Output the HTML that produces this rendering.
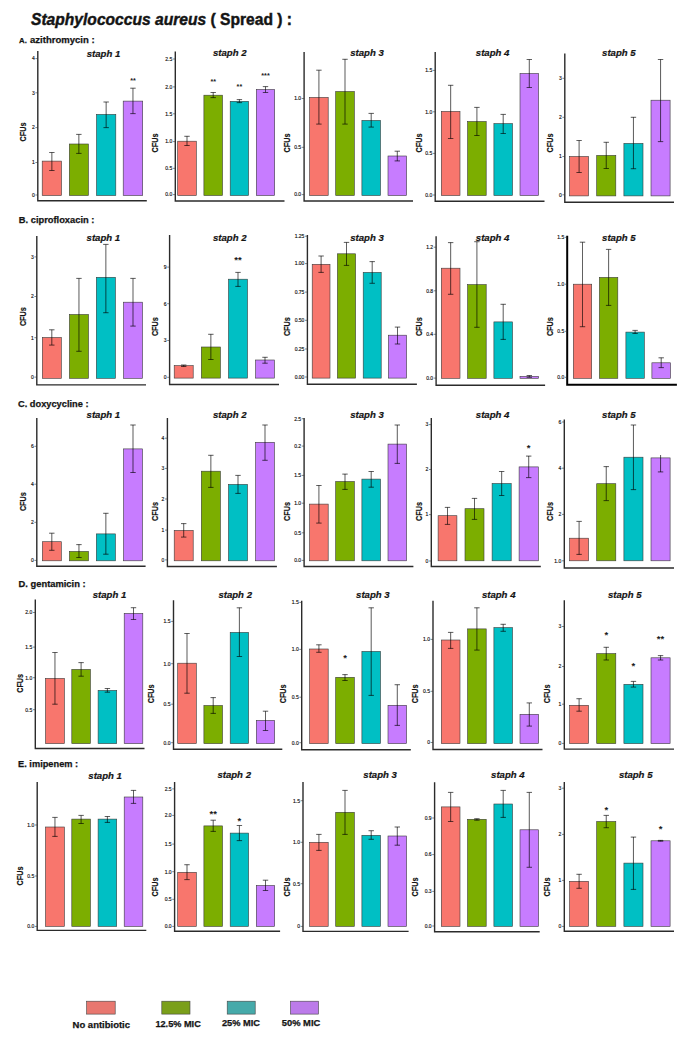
<!DOCTYPE html>
<html><head><meta charset="utf-8"><title>Staphylococcus aureus (Spread)</title>
<style>
html,body{margin:0;padding:0;background:#fff;}
body{width:685px;height:1040px;overflow:hidden;}
svg{display:block;}
text{font-family:"Liberation Sans", sans-serif;fill:#141414;}
line{stroke:#000;stroke-opacity:0.62;stroke-width:1.05;}
.ax{fill:none;stroke:#2b2b2b;stroke-width:1.4;}
line.tk{stroke:#333;stroke-opacity:1;stroke-width:0.6;}
.tl{font-size:5px;text-anchor:end;fill:#111;stroke:#111;stroke-width:0.15px;}
.tt{font-size:9.6px;stroke:#141414;stroke-width:0.2px;font-weight:bold;font-style:italic;text-anchor:middle;}
.cf{font-size:8.4px;font-weight:bold;text-anchor:middle;stroke:#141414;stroke-width:0.2px;}
.st{font-size:9.5px;font-weight:bold;text-anchor:middle;fill:#1a1a1a;}
.sec{font-size:9.2px;font-weight:bold;stroke:#141414;stroke-width:0.25px;}
.lg{font-size:9px;font-weight:bold;text-anchor:middle;stroke:#141414;stroke-width:0.25px;}
</style></head>
<body><svg width="685" height="1040" viewBox="0 0 685 1040">
<rect x="0" y="0" width="685" height="1040" fill="#fff"/>
<text x="31" y="25" font-size="16.5" font-weight="bold" stroke="#141414" stroke-width="0.45" textLength="261" lengthAdjust="spacingAndGlyphs"><tspan font-style="italic">Staphylococcus aureus</tspan> ( Spread ) :</text>
<text class="sec" x="19.1" y="43.1" style="font-size:7.8px">A.</text>
<text class="sec" x="30" y="43.1" textLength="64.6" lengthAdjust="spacingAndGlyphs">azithromycin :</text>
<text class="sec" x="18.8" y="223" textLength="75.6" lengthAdjust="spacingAndGlyphs">B. ciprofloxacin :</text>
<text class="sec" x="18" y="407.4" textLength="70.5" lengthAdjust="spacingAndGlyphs">C. doxycycline :</text>
<text class="sec" x="18.6" y="587" textLength="67" lengthAdjust="spacingAndGlyphs">D. gentamicin :</text>
<text class="sec" x="18" y="767" textLength="60.2" lengthAdjust="spacingAndGlyphs">E. imipenem :</text>
<rect x="42.2" y="161.1" width="19.3" height="34.4" fill="#F8766D" stroke="#3a3a3a" stroke-width="0.6"/>
<rect x="69.3" y="144" width="19.1" height="51.5" fill="#7CAE00" stroke="#3a3a3a" stroke-width="0.6"/>
<rect x="96.5" y="114.4" width="19.3" height="81.1" fill="#00BFC4" stroke="#3a3a3a" stroke-width="0.6"/>
<rect x="123.2" y="101.1" width="19.5" height="94.4" fill="#C77CFF" stroke="#3a3a3a" stroke-width="0.6"/>
<line x1="51.85" y1="152.5" x2="51.85" y2="170.5"/>
<line x1="49.15" y1="152.5" x2="54.55" y2="152.5"/>
<line x1="49.15" y1="170.5" x2="54.55" y2="170.5"/>
<line x1="78.85" y1="134.4" x2="78.85" y2="153.4"/>
<line x1="76.15" y1="134.4" x2="81.55" y2="134.4"/>
<line x1="76.15" y1="153.4" x2="81.55" y2="153.4"/>
<line x1="106.15" y1="102" x2="106.15" y2="127.6"/>
<line x1="103.45" y1="102" x2="108.85" y2="102"/>
<line x1="103.45" y1="127.6" x2="108.85" y2="127.6"/>
<line x1="132.95" y1="88.2" x2="132.95" y2="113.6"/>
<line x1="130.25" y1="88.2" x2="135.65" y2="88.2"/>
<line x1="130.25" y1="113.6" x2="135.65" y2="113.6"/>
<path class="ax" d="M37.8 51V200.8H146.8"/>
<line class="tk" x1="35.4" y1="195" x2="37.8" y2="195"/>
<text class="tl" x="34.8" y="196.8">0</text>
<line class="tk" x1="35.4" y1="162.5" x2="37.8" y2="162.5"/>
<text class="tl" x="34.8" y="164.3">1</text>
<line class="tk" x1="35.4" y1="127.6" x2="37.8" y2="127.6"/>
<text class="tl" x="34.8" y="129.4">2</text>
<line class="tk" x1="35.4" y1="92.8" x2="37.8" y2="92.8"/>
<text class="tl" x="34.8" y="94.6">3</text>
<line class="tk" x1="35.4" y1="58.6" x2="37.8" y2="58.6"/>
<text class="tl" x="34.8" y="60.4">4</text>
<text class="tt" x="103.5" y="56.5">staph 1</text>
<text class="cf" transform="translate(26.1 132) rotate(-90)" textLength="18.8" lengthAdjust="spacingAndGlyphs">CFUs</text>
<text class="st" style="font-size:7.2px" x="132.95" y="83.4">**</text>
<rect x="177.7" y="141.2" width="18.6" height="54.3" fill="#F8766D" stroke="#3a3a3a" stroke-width="0.6"/>
<rect x="203.9" y="95.2" width="18.6" height="100.3" fill="#7CAE00" stroke="#3a3a3a" stroke-width="0.6"/>
<rect x="230.2" y="101.3" width="18.4" height="94.2" fill="#00BFC4" stroke="#3a3a3a" stroke-width="0.6"/>
<rect x="256.3" y="89.5" width="18.4" height="106" fill="#C77CFF" stroke="#3a3a3a" stroke-width="0.6"/>
<line x1="187" y1="136.3" x2="187" y2="145.5"/>
<line x1="184.3" y1="136.3" x2="189.7" y2="136.3"/>
<line x1="184.3" y1="145.5" x2="189.7" y2="145.5"/>
<line x1="213.2" y1="92.5" x2="213.2" y2="97.6"/>
<line x1="210.5" y1="92.5" x2="215.9" y2="92.5"/>
<line x1="210.5" y1="97.6" x2="215.9" y2="97.6"/>
<line x1="239.4" y1="99.6" x2="239.4" y2="102.6"/>
<line x1="236.7" y1="99.6" x2="242.1" y2="99.6"/>
<line x1="236.7" y1="102.6" x2="242.1" y2="102.6"/>
<line x1="265.5" y1="86.6" x2="265.5" y2="92.5"/>
<line x1="262.8" y1="86.6" x2="268.2" y2="86.6"/>
<line x1="262.8" y1="92.5" x2="268.2" y2="92.5"/>
<path class="ax" d="M175.3 51.5V201H284.5"/>
<line class="tk" x1="172.9" y1="194.6" x2="175.3" y2="194.6"/>
<text class="tl" x="172.3" y="196.4">0.0</text>
<line class="tk" x1="172.9" y1="168.3" x2="175.3" y2="168.3"/>
<text class="tl" x="172.3" y="170.1">0.5</text>
<line class="tk" x1="172.9" y1="141.6" x2="175.3" y2="141.6"/>
<text class="tl" x="172.3" y="143.4">1.0</text>
<line class="tk" x1="172.9" y1="113.8" x2="175.3" y2="113.8"/>
<text class="tl" x="172.3" y="115.6">1.5</text>
<line class="tk" x1="172.9" y1="86.9" x2="175.3" y2="86.9"/>
<text class="tl" x="172.3" y="88.7">2.0</text>
<line class="tk" x1="172.9" y1="59" x2="175.3" y2="59"/>
<text class="tl" x="172.3" y="60.8">2.5</text>
<text class="tt" x="229.8" y="56.2">staph 2</text>
<text class="cf" transform="translate(157.9 143) rotate(-90)" textLength="18.8" lengthAdjust="spacingAndGlyphs">CFUs</text>
<text class="st" style="font-size:7.2px" x="213.2" y="83.6">**</text>
<text class="st" style="font-size:7.2px" x="239.4" y="89.3">**</text>
<text class="st" style="font-size:7.2px" x="265.5" y="78.2">***</text>
<rect x="309.6" y="97.4" width="18.6" height="98.1" fill="#F8766D" stroke="#3a3a3a" stroke-width="0.6"/>
<rect x="335.7" y="91.5" width="18.6" height="104" fill="#7CAE00" stroke="#3a3a3a" stroke-width="0.6"/>
<rect x="361.9" y="120.4" width="18.6" height="75.1" fill="#00BFC4" stroke="#3a3a3a" stroke-width="0.6"/>
<rect x="388" y="156" width="18.6" height="39.5" fill="#C77CFF" stroke="#3a3a3a" stroke-width="0.6"/>
<line x1="318.9" y1="70.2" x2="318.9" y2="124.1"/>
<line x1="316.2" y1="70.2" x2="321.6" y2="70.2"/>
<line x1="316.2" y1="124.1" x2="321.6" y2="124.1"/>
<line x1="345" y1="59.3" x2="345" y2="124.1"/>
<line x1="342.3" y1="59.3" x2="347.7" y2="59.3"/>
<line x1="342.3" y1="124.1" x2="347.7" y2="124.1"/>
<line x1="371.2" y1="113.4" x2="371.2" y2="127.1"/>
<line x1="368.5" y1="113.4" x2="373.9" y2="113.4"/>
<line x1="368.5" y1="127.1" x2="373.9" y2="127.1"/>
<line x1="397.3" y1="151.2" x2="397.3" y2="160.9"/>
<line x1="394.6" y1="151.2" x2="400" y2="151.2"/>
<line x1="394.6" y1="160.9" x2="400" y2="160.9"/>
<path class="ax" d="M304.1 52V201H413"/>
<line class="tk" x1="301.7" y1="194.6" x2="304.1" y2="194.6"/>
<text class="tl" x="301.1" y="196.4">0.0</text>
<line class="tk" x1="301.7" y1="147.3" x2="304.1" y2="147.3"/>
<text class="tl" x="301.1" y="149.1">0.5</text>
<line class="tk" x1="301.7" y1="98.5" x2="304.1" y2="98.5"/>
<text class="tl" x="301.1" y="100.3">1.0</text>
<text class="tt" x="367" y="56.2">staph 3</text>
<text class="cf" transform="translate(290 143) rotate(-90)" textLength="18.8" lengthAdjust="spacingAndGlyphs">CFUs</text>
<rect x="441.3" y="111.4" width="18.7" height="84.1" fill="#F8766D" stroke="#3a3a3a" stroke-width="0.6"/>
<rect x="467.6" y="121.5" width="18.6" height="74" fill="#7CAE00" stroke="#3a3a3a" stroke-width="0.6"/>
<rect x="493.9" y="123.6" width="18.6" height="71.9" fill="#00BFC4" stroke="#3a3a3a" stroke-width="0.6"/>
<rect x="520" y="73.5" width="18.6" height="122" fill="#C77CFF" stroke="#3a3a3a" stroke-width="0.6"/>
<line x1="450.65" y1="85.3" x2="450.65" y2="138.5"/>
<line x1="447.95" y1="85.3" x2="453.35" y2="85.3"/>
<line x1="447.95" y1="138.5" x2="453.35" y2="138.5"/>
<line x1="476.9" y1="107.4" x2="476.9" y2="135.5"/>
<line x1="474.2" y1="107.4" x2="479.6" y2="107.4"/>
<line x1="474.2" y1="135.5" x2="479.6" y2="135.5"/>
<line x1="503.2" y1="114.4" x2="503.2" y2="133.5"/>
<line x1="500.5" y1="114.4" x2="505.9" y2="114.4"/>
<line x1="500.5" y1="133.5" x2="505.9" y2="133.5"/>
<line x1="529.3" y1="59.5" x2="529.3" y2="87.5"/>
<line x1="526.6" y1="59.5" x2="532" y2="59.5"/>
<line x1="526.6" y1="87.5" x2="532" y2="87.5"/>
<path class="ax" d="M435.2 52V201.2H544.5"/>
<line class="tk" x1="432.8" y1="195" x2="435.2" y2="195"/>
<text class="tl" x="432.2" y="196.8">0.0</text>
<line class="tk" x1="432.8" y1="153.4" x2="435.2" y2="153.4"/>
<text class="tl" x="432.2" y="155.2">0.5</text>
<line class="tk" x1="432.8" y1="111.8" x2="435.2" y2="111.8"/>
<text class="tl" x="432.2" y="113.6">1.0</text>
<line class="tk" x1="432.8" y1="70.4" x2="435.2" y2="70.4"/>
<text class="tl" x="432.2" y="72.2">1.5</text>
<text class="tt" x="492.6" y="56.2">staph 4</text>
<text class="cf" transform="translate(421.6 143) rotate(-90)" textLength="18.8" lengthAdjust="spacingAndGlyphs">CFUs</text>
<rect x="569.6" y="156.5" width="19" height="39.4" fill="#F8766D" stroke="#3a3a3a" stroke-width="0.6"/>
<rect x="596.7" y="155.4" width="19.1" height="40.5" fill="#7CAE00" stroke="#3a3a3a" stroke-width="0.6"/>
<rect x="623.9" y="143.4" width="19.1" height="52.5" fill="#00BFC4" stroke="#3a3a3a" stroke-width="0.6"/>
<rect x="651" y="100.2" width="19.1" height="95.7" fill="#C77CFF" stroke="#3a3a3a" stroke-width="0.6"/>
<line x1="579.1" y1="140.5" x2="579.1" y2="172.5"/>
<line x1="576.4" y1="140.5" x2="581.8" y2="140.5"/>
<line x1="576.4" y1="172.5" x2="581.8" y2="172.5"/>
<line x1="606.25" y1="142.3" x2="606.25" y2="168.5"/>
<line x1="603.55" y1="142.3" x2="608.95" y2="142.3"/>
<line x1="603.55" y1="168.5" x2="608.95" y2="168.5"/>
<line x1="633.45" y1="117.3" x2="633.45" y2="168.7"/>
<line x1="630.75" y1="117.3" x2="636.15" y2="117.3"/>
<line x1="630.75" y1="168.7" x2="636.15" y2="168.7"/>
<line x1="660.55" y1="59.5" x2="660.55" y2="141.6"/>
<line x1="657.85" y1="59.5" x2="663.25" y2="59.5"/>
<line x1="657.85" y1="141.6" x2="663.25" y2="141.6"/>
<path class="ax" d="M564.8 53.6V202.3H674"/>
<line class="tk" x1="562.4" y1="194.8" x2="564.8" y2="194.8"/>
<text class="tl" x="561.8" y="196.6">0</text>
<line class="tk" x1="562.4" y1="156.5" x2="564.8" y2="156.5"/>
<text class="tl" x="561.8" y="158.3">1</text>
<line class="tk" x1="562.4" y1="117.3" x2="564.8" y2="117.3"/>
<text class="tl" x="561.8" y="119.1">2</text>
<line class="tk" x1="562.4" y1="78.3" x2="564.8" y2="78.3"/>
<text class="tl" x="561.8" y="80.1">3</text>
<text class="tt" x="618.9" y="56.2">staph 5</text>
<text class="cf" transform="translate(553.3 143) rotate(-90)" textLength="18.8" lengthAdjust="spacingAndGlyphs">CFUs</text>
<rect x="42.3" y="337.5" width="19" height="40.8" fill="#F8766D" stroke="#3a3a3a" stroke-width="0.6"/>
<rect x="69.4" y="314.5" width="19.1" height="63.8" fill="#7CAE00" stroke="#3a3a3a" stroke-width="0.6"/>
<rect x="96.3" y="277.3" width="19.1" height="101" fill="#00BFC4" stroke="#3a3a3a" stroke-width="0.6"/>
<rect x="123.5" y="302.2" width="19" height="76.1" fill="#C77CFF" stroke="#3a3a3a" stroke-width="0.6"/>
<line x1="51.8" y1="329.8" x2="51.8" y2="345.1"/>
<line x1="49.1" y1="329.8" x2="54.5" y2="329.8"/>
<line x1="49.1" y1="345.1" x2="54.5" y2="345.1"/>
<line x1="78.95" y1="278.4" x2="78.95" y2="351.3"/>
<line x1="76.25" y1="278.4" x2="81.65" y2="278.4"/>
<line x1="76.25" y1="351.3" x2="81.65" y2="351.3"/>
<line x1="105.85" y1="244.4" x2="105.85" y2="312.7"/>
<line x1="103.15" y1="244.4" x2="108.55" y2="244.4"/>
<line x1="103.15" y1="312.7" x2="108.55" y2="312.7"/>
<line x1="133" y1="278.4" x2="133" y2="326.1"/>
<line x1="130.3" y1="278.4" x2="135.7" y2="278.4"/>
<line x1="130.3" y1="326.1" x2="135.7" y2="326.1"/>
<path class="ax" d="M36.8 236.1V384.9H146"/>
<line class="tk" x1="34.4" y1="377.1" x2="36.8" y2="377.1"/>
<text class="tl" x="33.8" y="378.9">0</text>
<line class="tk" x1="34.4" y1="337.7" x2="36.8" y2="337.7"/>
<text class="tl" x="33.8" y="339.5">1</text>
<line class="tk" x1="34.4" y1="296.5" x2="36.8" y2="296.5"/>
<text class="tl" x="33.8" y="298.3">2</text>
<line class="tk" x1="34.4" y1="256.9" x2="36.8" y2="256.9"/>
<text class="tl" x="33.8" y="258.7">3</text>
<text class="tt" x="103.4" y="240.9">staph 1</text>
<text class="cf" transform="translate(26 316.7) rotate(-90)" textLength="18.8" lengthAdjust="spacingAndGlyphs">CFUs</text>
<rect x="174.2" y="365.6" width="19" height="12.5" fill="#F8766D" stroke="#3a3a3a" stroke-width="0.6"/>
<rect x="201.3" y="347" width="19.1" height="31.1" fill="#7CAE00" stroke="#3a3a3a" stroke-width="0.6"/>
<rect x="228.5" y="279.2" width="19" height="98.9" fill="#00BFC4" stroke="#3a3a3a" stroke-width="0.6"/>
<rect x="255.6" y="360" width="18.8" height="18.1" fill="#C77CFF" stroke="#3a3a3a" stroke-width="0.6"/>
<line x1="183.7" y1="365" x2="183.7" y2="366.5"/>
<line x1="181" y1="365" x2="186.4" y2="365"/>
<line x1="181" y1="366.5" x2="186.4" y2="366.5"/>
<line x1="210.85" y1="334.3" x2="210.85" y2="359.5"/>
<line x1="208.15" y1="334.3" x2="213.55" y2="334.3"/>
<line x1="208.15" y1="359.5" x2="213.55" y2="359.5"/>
<line x1="238" y1="272.4" x2="238" y2="286.4"/>
<line x1="235.3" y1="272.4" x2="240.7" y2="272.4"/>
<line x1="235.3" y1="286.4" x2="240.7" y2="286.4"/>
<line x1="265" y1="357.3" x2="265" y2="363.2"/>
<line x1="262.3" y1="357.3" x2="267.7" y2="357.3"/>
<line x1="262.3" y1="363.2" x2="267.7" y2="363.2"/>
<path class="ax" d="M169.6 235.1V384.5H279"/>
<line class="tk" x1="167.2" y1="377.3" x2="169.6" y2="377.3"/>
<text class="tl" x="166.6" y="379.1">0</text>
<line class="tk" x1="167.2" y1="340.5" x2="169.6" y2="340.5"/>
<text class="tl" x="166.6" y="342.3">3</text>
<line class="tk" x1="167.2" y1="303.7" x2="169.6" y2="303.7"/>
<text class="tl" x="166.6" y="305.5">6</text>
<line class="tk" x1="167.2" y1="267.1" x2="169.6" y2="267.1"/>
<text class="tl" x="166.6" y="268.9">9</text>
<text class="tt" x="229.8" y="240.7">staph 2</text>
<text class="cf" transform="translate(157.9 326.7) rotate(-90)" textLength="18.8" lengthAdjust="spacingAndGlyphs">CFUs</text>
<text class="st" x="238" y="263">**</text>
<rect x="312.2" y="264.3" width="17.8" height="113.8" fill="#F8766D" stroke="#3a3a3a" stroke-width="0.6"/>
<rect x="337.4" y="253.8" width="18.2" height="124.3" fill="#7CAE00" stroke="#3a3a3a" stroke-width="0.6"/>
<rect x="363.2" y="272.4" width="18" height="105.7" fill="#00BFC4" stroke="#3a3a3a" stroke-width="0.6"/>
<rect x="388.4" y="335.2" width="18.2" height="42.9" fill="#C77CFF" stroke="#3a3a3a" stroke-width="0.6"/>
<line x1="321.1" y1="256" x2="321.1" y2="272.4"/>
<line x1="318.4" y1="256" x2="323.8" y2="256"/>
<line x1="318.4" y1="272.4" x2="323.8" y2="272.4"/>
<line x1="346.5" y1="242.4" x2="346.5" y2="265.4"/>
<line x1="343.8" y1="242.4" x2="349.2" y2="242.4"/>
<line x1="343.8" y1="265.4" x2="349.2" y2="265.4"/>
<line x1="372.2" y1="261.6" x2="372.2" y2="283.3"/>
<line x1="369.5" y1="261.6" x2="374.9" y2="261.6"/>
<line x1="369.5" y1="283.3" x2="374.9" y2="283.3"/>
<line x1="397.5" y1="327.1" x2="397.5" y2="344"/>
<line x1="394.8" y1="327.1" x2="400.2" y2="327.1"/>
<line x1="394.8" y1="344" x2="400.2" y2="344"/>
<path class="ax" d="M307.4 235.1V384.3H416.9"/>
<line class="tk" x1="305" y1="377" x2="307.4" y2="377"/>
<text class="tl" x="304.4" y="378.8">0.00</text>
<line class="tk" x1="305" y1="349" x2="307.4" y2="349"/>
<text class="tl" x="304.4" y="350.8">0.25</text>
<line class="tk" x1="305" y1="320.3" x2="307.4" y2="320.3"/>
<text class="tl" x="304.4" y="322.1">0.50</text>
<line class="tk" x1="305" y1="292.1" x2="307.4" y2="292.1"/>
<text class="tl" x="304.4" y="293.9">0.75</text>
<line class="tk" x1="305" y1="263.6" x2="307.4" y2="263.6"/>
<text class="tl" x="304.4" y="265.4">1.00</text>
<line class="tk" x1="305" y1="236.2" x2="307.4" y2="236.2"/>
<text class="tl" x="304.4" y="238">1.25</text>
<text class="tt" x="367" y="240.7">staph 3</text>
<text class="cf" transform="translate(290 326.7) rotate(-90)" textLength="18.8" lengthAdjust="spacingAndGlyphs">CFUs</text>
<rect x="441.3" y="268.2" width="18.7" height="110.1" fill="#F8766D" stroke="#3a3a3a" stroke-width="0.6"/>
<rect x="467.6" y="284.6" width="18.6" height="93.7" fill="#7CAE00" stroke="#3a3a3a" stroke-width="0.6"/>
<rect x="493.9" y="321.9" width="18.6" height="56.4" fill="#00BFC4" stroke="#3a3a3a" stroke-width="0.6"/>
<rect x="520" y="376.4" width="18.6" height="1.9" fill="#C77CFF" stroke="#3a3a3a" stroke-width="0.6"/>
<line x1="450.65" y1="242.6" x2="450.65" y2="294.3"/>
<line x1="447.95" y1="242.6" x2="453.35" y2="242.6"/>
<line x1="447.95" y1="294.3" x2="453.35" y2="294.3"/>
<line x1="476.9" y1="241.7" x2="476.9" y2="327.3"/>
<line x1="474.2" y1="241.7" x2="479.6" y2="241.7"/>
<line x1="474.2" y1="327.3" x2="479.6" y2="327.3"/>
<line x1="503.2" y1="304.3" x2="503.2" y2="339.4"/>
<line x1="500.5" y1="304.3" x2="505.9" y2="304.3"/>
<line x1="500.5" y1="339.4" x2="505.9" y2="339.4"/>
<line x1="529.3" y1="375.5" x2="529.3" y2="377.3"/>
<line x1="526.6" y1="375.5" x2="532" y2="375.5"/>
<line x1="526.6" y1="377.3" x2="532" y2="377.3"/>
<path class="ax" d="M436.1 236.2V385.3H545.1"/>
<line class="tk" x1="433.7" y1="378.1" x2="436.1" y2="378.1"/>
<text class="tl" x="433.1" y="379.9">0.0</text>
<line class="tk" x1="433.7" y1="334.3" x2="436.1" y2="334.3"/>
<text class="tl" x="433.1" y="336.1">0.4</text>
<line class="tk" x1="433.7" y1="290.8" x2="436.1" y2="290.8"/>
<text class="tl" x="433.1" y="292.6">0.8</text>
<line class="tk" x1="433.7" y1="247.2" x2="436.1" y2="247.2"/>
<text class="tl" x="433.1" y="249">1.2</text>
<text class="tt" x="492.6" y="240.7">staph 4</text>
<text class="cf" transform="translate(421.6 326.7) rotate(-90)" textLength="18.8" lengthAdjust="spacingAndGlyphs">CFUs</text>
<rect x="573.3" y="284.2" width="18.4" height="94.1" fill="#F8766D" stroke="#3a3a3a" stroke-width="0.6"/>
<rect x="599.4" y="277.4" width="18.4" height="100.9" fill="#7CAE00" stroke="#3a3a3a" stroke-width="0.6"/>
<rect x="625.9" y="332.1" width="18.4" height="46.2" fill="#00BFC4" stroke="#3a3a3a" stroke-width="0.6"/>
<rect x="651.9" y="362.8" width="18.6" height="15.5" fill="#C77CFF" stroke="#3a3a3a" stroke-width="0.6"/>
<line x1="582.5" y1="242.2" x2="582.5" y2="326.7"/>
<line x1="579.8" y1="242.2" x2="585.2" y2="242.2"/>
<line x1="579.8" y1="326.7" x2="585.2" y2="326.7"/>
<line x1="608.6" y1="249.4" x2="608.6" y2="305.4"/>
<line x1="605.9" y1="249.4" x2="611.3" y2="249.4"/>
<line x1="605.9" y1="305.4" x2="611.3" y2="305.4"/>
<line x1="635.1" y1="330.4" x2="635.1" y2="333.5"/>
<line x1="632.4" y1="330.4" x2="637.8" y2="330.4"/>
<line x1="632.4" y1="333.5" x2="637.8" y2="333.5"/>
<line x1="661.2" y1="357.8" x2="661.2" y2="367.6"/>
<line x1="658.5" y1="357.8" x2="663.9" y2="357.8"/>
<line x1="658.5" y1="367.6" x2="663.9" y2="367.6"/>
<path class="ax" style="stroke-width:2px;stroke:#000" d="M567.2 235.8V384.7H676.9"/>
<line class="tk" x1="564.8" y1="377.3" x2="567.2" y2="377.3"/>
<text class="tl" x="564.2" y="379.1">0.0</text>
<line class="tk" x1="564.8" y1="331.3" x2="567.2" y2="331.3"/>
<text class="tl" x="564.2" y="333.1">0.5</text>
<line class="tk" x1="564.8" y1="284.2" x2="567.2" y2="284.2"/>
<text class="tl" x="564.2" y="286">1.0</text>
<line class="tk" x1="564.8" y1="237.3" x2="567.2" y2="237.3"/>
<text class="tl" x="564.2" y="239.1">1.5</text>
<text class="tt" x="618.9" y="240.7">staph 5</text>
<text class="cf" transform="translate(553.3 326.7) rotate(-90)" textLength="18.8" lengthAdjust="spacingAndGlyphs">CFUs</text>
<rect x="42.3" y="541.7" width="19" height="19.1" fill="#F8766D" stroke="#3a3a3a" stroke-width="0.6"/>
<rect x="69.4" y="551.4" width="19.1" height="9.4" fill="#7CAE00" stroke="#3a3a3a" stroke-width="0.6"/>
<rect x="96.3" y="533.9" width="19.1" height="26.9" fill="#00BFC4" stroke="#3a3a3a" stroke-width="0.6"/>
<rect x="123.5" y="448.9" width="19" height="111.9" fill="#C77CFF" stroke="#3a3a3a" stroke-width="0.6"/>
<line x1="51.8" y1="533.2" x2="51.8" y2="550.3"/>
<line x1="49.1" y1="533.2" x2="54.5" y2="533.2"/>
<line x1="49.1" y1="550.3" x2="54.5" y2="550.3"/>
<line x1="78.95" y1="544.6" x2="78.95" y2="557.5"/>
<line x1="76.25" y1="544.6" x2="81.65" y2="544.6"/>
<line x1="76.25" y1="557.5" x2="81.65" y2="557.5"/>
<line x1="105.85" y1="513.3" x2="105.85" y2="554.2"/>
<line x1="103.15" y1="513.3" x2="108.55" y2="513.3"/>
<line x1="103.15" y1="554.2" x2="108.55" y2="554.2"/>
<line x1="133" y1="425" x2="133" y2="472.5"/>
<line x1="130.3" y1="425" x2="135.7" y2="425"/>
<line x1="130.3" y1="472.5" x2="135.7" y2="472.5"/>
<path class="ax" d="M36.8 418V566.3H145.6"/>
<line class="tk" x1="34.4" y1="560.4" x2="36.8" y2="560.4"/>
<text class="tl" x="33.8" y="562.2">0</text>
<line class="tk" x1="34.4" y1="522.3" x2="36.8" y2="522.3"/>
<text class="tl" x="33.8" y="524.1">2</text>
<line class="tk" x1="34.4" y1="484.2" x2="36.8" y2="484.2"/>
<text class="tl" x="33.8" y="486">4</text>
<line class="tk" x1="34.4" y1="446.3" x2="36.8" y2="446.3"/>
<text class="tl" x="33.8" y="448.1">6</text>
<text class="tt" x="103.4" y="417.8">staph 1</text>
<text class="cf" transform="translate(26 501.7) rotate(-90)" textLength="18.8" lengthAdjust="spacingAndGlyphs">CFUs</text>
<rect x="174.2" y="530.4" width="19" height="30.4" fill="#F8766D" stroke="#3a3a3a" stroke-width="0.6"/>
<rect x="201.3" y="471.2" width="19.1" height="89.6" fill="#7CAE00" stroke="#3a3a3a" stroke-width="0.6"/>
<rect x="228.5" y="484.4" width="19" height="76.4" fill="#00BFC4" stroke="#3a3a3a" stroke-width="0.6"/>
<rect x="255.6" y="442.3" width="18.8" height="118.5" fill="#C77CFF" stroke="#3a3a3a" stroke-width="0.6"/>
<line x1="183.7" y1="523.6" x2="183.7" y2="537.1"/>
<line x1="181" y1="523.6" x2="186.4" y2="523.6"/>
<line x1="181" y1="537.1" x2="186.4" y2="537.1"/>
<line x1="210.85" y1="455.3" x2="210.85" y2="487.4"/>
<line x1="208.15" y1="455.3" x2="213.55" y2="455.3"/>
<line x1="208.15" y1="487.4" x2="213.55" y2="487.4"/>
<line x1="238" y1="475.4" x2="238" y2="493.4"/>
<line x1="235.3" y1="475.4" x2="240.7" y2="475.4"/>
<line x1="235.3" y1="493.4" x2="240.7" y2="493.4"/>
<line x1="265" y1="425" x2="265" y2="460.3"/>
<line x1="262.3" y1="425" x2="267.7" y2="425"/>
<line x1="262.3" y1="460.3" x2="267.7" y2="460.3"/>
<path class="ax" d="M167.4 418V566.5H276.9"/>
<line class="tk" x1="165" y1="559.9" x2="167.4" y2="559.9"/>
<text class="tl" x="164.4" y="561.7">0</text>
<line class="tk" x1="165" y1="530.1" x2="167.4" y2="530.1"/>
<text class="tl" x="164.4" y="531.9">1</text>
<line class="tk" x1="165" y1="499" x2="167.4" y2="499"/>
<text class="tl" x="164.4" y="500.8">2</text>
<line class="tk" x1="165" y1="468.4" x2="167.4" y2="468.4"/>
<text class="tl" x="164.4" y="470.2">3</text>
<line class="tk" x1="165" y1="438.2" x2="167.4" y2="438.2"/>
<text class="tl" x="164.4" y="440">4</text>
<text class="tt" x="229.8" y="417.8">staph 2</text>
<text class="cf" transform="translate(157.9 511.5) rotate(-90)" textLength="18.8" lengthAdjust="spacingAndGlyphs">CFUs</text>
<rect x="309.6" y="504.1" width="18.6" height="56.7" fill="#F8766D" stroke="#3a3a3a" stroke-width="0.6"/>
<rect x="335.7" y="481.5" width="18.6" height="79.3" fill="#7CAE00" stroke="#3a3a3a" stroke-width="0.6"/>
<rect x="361.9" y="479.1" width="18.6" height="81.7" fill="#00BFC4" stroke="#3a3a3a" stroke-width="0.6"/>
<rect x="388" y="444.1" width="18.6" height="116.7" fill="#C77CFF" stroke="#3a3a3a" stroke-width="0.6"/>
<line x1="318.9" y1="485.5" x2="318.9" y2="523.1"/>
<line x1="316.2" y1="485.5" x2="321.6" y2="485.5"/>
<line x1="316.2" y1="523.1" x2="321.6" y2="523.1"/>
<line x1="345" y1="474.1" x2="345" y2="489.4"/>
<line x1="342.3" y1="474.1" x2="347.7" y2="474.1"/>
<line x1="342.3" y1="489.4" x2="347.7" y2="489.4"/>
<line x1="371.2" y1="471.5" x2="371.2" y2="487.2"/>
<line x1="368.5" y1="471.5" x2="373.9" y2="471.5"/>
<line x1="368.5" y1="487.2" x2="373.9" y2="487.2"/>
<line x1="397.3" y1="425" x2="397.3" y2="463.4"/>
<line x1="394.6" y1="425" x2="400" y2="425"/>
<line x1="394.6" y1="463.4" x2="400" y2="463.4"/>
<path class="ax" d="M304.1 418V566.5H413.4"/>
<line class="tk" x1="301.7" y1="560.4" x2="304.1" y2="560.4"/>
<text class="tl" x="301.1" y="562.2">0.0</text>
<line class="tk" x1="301.7" y1="532.8" x2="304.1" y2="532.8"/>
<text class="tl" x="301.1" y="534.6">0.5</text>
<line class="tk" x1="301.7" y1="503.2" x2="304.1" y2="503.2"/>
<text class="tl" x="301.1" y="505">1.0</text>
<line class="tk" x1="301.7" y1="475.4" x2="304.1" y2="475.4"/>
<text class="tl" x="301.1" y="477.2">1.5</text>
<line class="tk" x1="301.7" y1="446.1" x2="304.1" y2="446.1"/>
<text class="tl" x="301.1" y="447.9">0.2</text>
<line class="tk" x1="301.7" y1="418.7" x2="304.1" y2="418.7"/>
<text class="tl" x="301.1" y="420.5">2.5</text>
<text class="tt" x="367" y="417.8">staph 3</text>
<text class="cf" transform="translate(290 511.5) rotate(-90)" textLength="18.8" lengthAdjust="spacingAndGlyphs">CFUs</text>
<rect x="438.1" y="515.7" width="18.8" height="45.1" fill="#F8766D" stroke="#3a3a3a" stroke-width="0.6"/>
<rect x="465" y="508.7" width="19" height="52.1" fill="#7CAE00" stroke="#3a3a3a" stroke-width="0.6"/>
<rect x="492.1" y="483.5" width="19.1" height="77.3" fill="#00BFC4" stroke="#3a3a3a" stroke-width="0.6"/>
<rect x="519.1" y="466.9" width="19.2" height="93.9" fill="#C77CFF" stroke="#3a3a3a" stroke-width="0.6"/>
<line x1="447.5" y1="507.4" x2="447.5" y2="524.4"/>
<line x1="444.8" y1="507.4" x2="450.2" y2="507.4"/>
<line x1="444.8" y1="524.4" x2="450.2" y2="524.4"/>
<line x1="474.5" y1="498.4" x2="474.5" y2="519.4"/>
<line x1="471.8" y1="498.4" x2="477.2" y2="498.4"/>
<line x1="471.8" y1="519.4" x2="477.2" y2="519.4"/>
<line x1="501.65" y1="471.5" x2="501.65" y2="495.5"/>
<line x1="498.95" y1="471.5" x2="504.35" y2="471.5"/>
<line x1="498.95" y1="495.5" x2="504.35" y2="495.5"/>
<line x1="528.7" y1="456.1" x2="528.7" y2="477.6"/>
<line x1="526" y1="456.1" x2="531.4" y2="456.1"/>
<line x1="526" y1="477.6" x2="531.4" y2="477.6"/>
<path class="ax" d="M431.3 418V566.5H540.8"/>
<line class="tk" x1="428.9" y1="561" x2="431.3" y2="561"/>
<text class="tl" x="428.3" y="562.8">0</text>
<line class="tk" x1="428.9" y1="514.6" x2="431.3" y2="514.6"/>
<text class="tl" x="428.3" y="516.4">1</text>
<line class="tk" x1="428.9" y1="469.5" x2="431.3" y2="469.5"/>
<text class="tl" x="428.3" y="471.3">2</text>
<line class="tk" x1="428.9" y1="424.6" x2="431.3" y2="424.6"/>
<text class="tl" x="428.3" y="426.4">3</text>
<text class="tt" x="492.6" y="417.8">staph 4</text>
<text class="cf" transform="translate(421.6 511.5) rotate(-90)" textLength="18.8" lengthAdjust="spacingAndGlyphs">CFUs</text>
<text class="st" x="528.7" y="450.9">*</text>
<rect x="569.6" y="538.2" width="19" height="22.6" fill="#F8766D" stroke="#3a3a3a" stroke-width="0.6"/>
<rect x="596.7" y="483.7" width="19.1" height="77.1" fill="#7CAE00" stroke="#3a3a3a" stroke-width="0.6"/>
<rect x="623.9" y="457.2" width="19.1" height="103.6" fill="#00BFC4" stroke="#3a3a3a" stroke-width="0.6"/>
<rect x="651" y="457.9" width="19.1" height="102.9" fill="#C77CFF" stroke="#3a3a3a" stroke-width="0.6"/>
<line x1="579.1" y1="521.4" x2="579.1" y2="554.4"/>
<line x1="576.4" y1="521.4" x2="581.8" y2="521.4"/>
<line x1="576.4" y1="554.4" x2="581.8" y2="554.4"/>
<line x1="606.25" y1="466.6" x2="606.25" y2="500.6"/>
<line x1="603.55" y1="466.6" x2="608.95" y2="466.6"/>
<line x1="603.55" y1="500.6" x2="608.95" y2="500.6"/>
<line x1="633.45" y1="425" x2="633.45" y2="489.6"/>
<line x1="630.75" y1="425" x2="636.15" y2="425"/>
<line x1="630.75" y1="489.6" x2="636.15" y2="489.6"/>
<line x1="660.55" y1="455" x2="660.55" y2="471.9"/>
<line x1="657.85" y1="471.9" x2="663.25" y2="471.9"/>
<path class="ax" d="M564.3 419.6V568H674"/>
<line class="tk" x1="561.9" y1="560.8" x2="564.3" y2="560.8"/>
<text class="tl" x="561.3" y="562.6">1.0</text>
<line class="tk" x1="561.9" y1="514.4" x2="564.3" y2="514.4"/>
<text class="tl" x="561.3" y="516.2">2</text>
<line class="tk" x1="561.9" y1="468.2" x2="564.3" y2="468.2"/>
<text class="tl" x="561.3" y="470">4</text>
<line class="tk" x1="561.9" y1="422" x2="564.3" y2="422"/>
<text class="tl" x="561.3" y="423.8">6</text>
<text class="tt" x="618.9" y="417.8">staph 5</text>
<text class="cf" transform="translate(553.3 511.5) rotate(-90)" textLength="18.8" lengthAdjust="spacingAndGlyphs">CFUs</text>
<rect x="45.5" y="678.4" width="18.9" height="65.2" fill="#F8766D" stroke="#3a3a3a" stroke-width="0.6"/>
<rect x="71.8" y="669.4" width="18.6" height="74.2" fill="#7CAE00" stroke="#3a3a3a" stroke-width="0.6"/>
<rect x="98.1" y="690.4" width="18.6" height="53.2" fill="#00BFC4" stroke="#3a3a3a" stroke-width="0.6"/>
<rect x="124.2" y="613.4" width="18.6" height="130.2" fill="#C77CFF" stroke="#3a3a3a" stroke-width="0.6"/>
<line x1="54.95" y1="652.5" x2="54.95" y2="704.2"/>
<line x1="52.25" y1="652.5" x2="57.65" y2="652.5"/>
<line x1="52.25" y1="704.2" x2="57.65" y2="704.2"/>
<line x1="81.1" y1="662.6" x2="81.1" y2="676.2"/>
<line x1="78.4" y1="662.6" x2="83.8" y2="662.6"/>
<line x1="78.4" y1="676.2" x2="83.8" y2="676.2"/>
<line x1="107.4" y1="688.5" x2="107.4" y2="692.2"/>
<line x1="104.7" y1="688.5" x2="110.1" y2="688.5"/>
<line x1="104.7" y1="692.2" x2="110.1" y2="692.2"/>
<line x1="133.5" y1="607.7" x2="133.5" y2="619.5"/>
<line x1="130.8" y1="607.7" x2="136.2" y2="607.7"/>
<line x1="130.8" y1="619.5" x2="136.2" y2="619.5"/>
<path class="ax" d="M35.3 599.6V748.5H144.5"/>
<line class="tk" x1="32.9" y1="709.7" x2="35.3" y2="709.7"/>
<text class="tl" x="32.3" y="711.5">0.5</text>
<line class="tk" x1="32.9" y1="677.7" x2="35.3" y2="677.7"/>
<text class="tl" x="32.3" y="679.5">1.0</text>
<line class="tk" x1="32.9" y1="647.1" x2="35.3" y2="647.1"/>
<text class="tl" x="32.3" y="648.9">1.5</text>
<line class="tk" x1="32.9" y1="612.5" x2="35.3" y2="612.5"/>
<text class="tl" x="32.3" y="614.3">2.0</text>
<text class="tt" x="109.5" y="597.8">staph 1</text>
<text class="cf" transform="translate(22.7 683.4) rotate(-90)" textLength="18.8" lengthAdjust="spacingAndGlyphs">CFUs</text>
<rect x="177.7" y="663.2" width="18.6" height="80.4" fill="#F8766D" stroke="#3a3a3a" stroke-width="0.6"/>
<rect x="203.9" y="705.5" width="18.6" height="38.1" fill="#7CAE00" stroke="#3a3a3a" stroke-width="0.6"/>
<rect x="230.2" y="632.4" width="18.4" height="111.2" fill="#00BFC4" stroke="#3a3a3a" stroke-width="0.6"/>
<rect x="256.3" y="720.4" width="18.4" height="23.2" fill="#C77CFF" stroke="#3a3a3a" stroke-width="0.6"/>
<line x1="187" y1="633.5" x2="187" y2="693.2"/>
<line x1="184.3" y1="633.5" x2="189.7" y2="633.5"/>
<line x1="184.3" y1="693.2" x2="189.7" y2="693.2"/>
<line x1="213.2" y1="697.6" x2="213.2" y2="713.4"/>
<line x1="210.5" y1="697.6" x2="215.9" y2="697.6"/>
<line x1="210.5" y1="713.4" x2="215.9" y2="713.4"/>
<line x1="239.4" y1="607.8" x2="239.4" y2="656.5"/>
<line x1="236.7" y1="607.8" x2="242.1" y2="607.8"/>
<line x1="236.7" y1="656.5" x2="242.1" y2="656.5"/>
<line x1="265.5" y1="711.2" x2="265.5" y2="730.5"/>
<line x1="262.8" y1="711.2" x2="268.2" y2="711.2"/>
<line x1="262.8" y1="730.5" x2="268.2" y2="730.5"/>
<path class="ax" d="M173.5 600.2V749.3H282.3"/>
<line class="tk" x1="171.1" y1="742.7" x2="173.5" y2="742.7"/>
<text class="tl" x="170.5" y="744.5">0.0</text>
<line class="tk" x1="171.1" y1="704.2" x2="173.5" y2="704.2"/>
<text class="tl" x="170.5" y="706">0.5</text>
<line class="tk" x1="171.1" y1="663.7" x2="173.5" y2="663.7"/>
<text class="tl" x="170.5" y="665.5">1.0</text>
<line class="tk" x1="171.1" y1="621.4" x2="173.5" y2="621.4"/>
<text class="tl" x="170.5" y="623.2">1.5</text>
<text class="tt" x="235.2" y="597.8">staph 2</text>
<text class="cf" transform="translate(154.4 693.9) rotate(-90)" textLength="18.8" lengthAdjust="spacingAndGlyphs">CFUs</text>
<rect x="309.6" y="649" width="18.6" height="94.6" fill="#F8766D" stroke="#3a3a3a" stroke-width="0.6"/>
<rect x="335.7" y="677.3" width="18.6" height="66.3" fill="#7CAE00" stroke="#3a3a3a" stroke-width="0.6"/>
<rect x="361.9" y="651.4" width="18.6" height="92.2" fill="#00BFC4" stroke="#3a3a3a" stroke-width="0.6"/>
<rect x="388" y="705.3" width="18.6" height="38.3" fill="#C77CFF" stroke="#3a3a3a" stroke-width="0.6"/>
<line x1="318.9" y1="644.8" x2="318.9" y2="652.3"/>
<line x1="316.2" y1="644.8" x2="321.6" y2="644.8"/>
<line x1="316.2" y1="652.3" x2="321.6" y2="652.3"/>
<line x1="345" y1="674.6" x2="345" y2="680.5"/>
<line x1="342.3" y1="674.6" x2="347.7" y2="674.6"/>
<line x1="342.3" y1="680.5" x2="347.7" y2="680.5"/>
<line x1="371.2" y1="607.8" x2="371.2" y2="695.4"/>
<line x1="368.5" y1="607.8" x2="373.9" y2="607.8"/>
<line x1="368.5" y1="695.4" x2="373.9" y2="695.4"/>
<line x1="397.3" y1="684.7" x2="397.3" y2="725.4"/>
<line x1="394.6" y1="684.7" x2="400" y2="684.7"/>
<line x1="394.6" y1="725.4" x2="400" y2="725.4"/>
<path class="ax" d="M301.7 600.8V749.7H410.8"/>
<line class="tk" x1="299.3" y1="742.7" x2="301.7" y2="742.7"/>
<text class="tl" x="298.7" y="744.5">0.0</text>
<line class="tk" x1="299.3" y1="697.2" x2="301.7" y2="697.2"/>
<text class="tl" x="298.7" y="699">0.5</text>
<line class="tk" x1="299.3" y1="649.4" x2="301.7" y2="649.4"/>
<text class="tl" x="298.7" y="651.2">1.0</text>
<line class="tk" x1="299.3" y1="602.4" x2="301.7" y2="602.4"/>
<text class="tl" x="298.7" y="604.2">1.5</text>
<text class="tt" x="372.9" y="597.8">staph 3</text>
<text class="cf" transform="translate(286.3 693.9) rotate(-90)" textLength="18.8" lengthAdjust="spacingAndGlyphs">CFUs</text>
<text class="st" x="345" y="661.3">*</text>
<rect x="441.3" y="640" width="18.7" height="103.6" fill="#F8766D" stroke="#3a3a3a" stroke-width="0.6"/>
<rect x="467.6" y="628.9" width="18.6" height="114.7" fill="#7CAE00" stroke="#3a3a3a" stroke-width="0.6"/>
<rect x="493.9" y="627.6" width="18.6" height="116" fill="#00BFC4" stroke="#3a3a3a" stroke-width="0.6"/>
<rect x="520" y="714.3" width="18.6" height="29.3" fill="#C77CFF" stroke="#3a3a3a" stroke-width="0.6"/>
<line x1="450.65" y1="632.4" x2="450.65" y2="648.4"/>
<line x1="447.95" y1="632.4" x2="453.35" y2="632.4"/>
<line x1="447.95" y1="648.4" x2="453.35" y2="648.4"/>
<line x1="476.9" y1="607.8" x2="476.9" y2="650.1"/>
<line x1="474.2" y1="607.8" x2="479.6" y2="607.8"/>
<line x1="474.2" y1="650.1" x2="479.6" y2="650.1"/>
<line x1="503.2" y1="624.3" x2="503.2" y2="631.3"/>
<line x1="500.5" y1="624.3" x2="505.9" y2="624.3"/>
<line x1="500.5" y1="631.3" x2="505.9" y2="631.3"/>
<line x1="529.3" y1="702.9" x2="529.3" y2="726.1"/>
<line x1="526.6" y1="702.9" x2="532" y2="702.9"/>
<line x1="526.6" y1="726.1" x2="532" y2="726.1"/>
<path class="ax" d="M433 600.8V749.5H542.5"/>
<line class="tk" x1="430.6" y1="742.5" x2="433" y2="742.5"/>
<text class="tl" x="430" y="744.3">0</text>
<line class="tk" x1="430.6" y1="691.3" x2="433" y2="691.3"/>
<text class="tl" x="430" y="693.1">0.5</text>
<line class="tk" x1="430.6" y1="639.4" x2="433" y2="639.4"/>
<text class="tl" x="430" y="641.2">1.0</text>
<text class="tt" x="498.7" y="597.8">staph 4</text>
<text class="cf" transform="translate(417.9 693.9) rotate(-90)" textLength="18.8" lengthAdjust="spacingAndGlyphs">CFUs</text>
<rect x="569.6" y="705.3" width="19" height="38.3" fill="#F8766D" stroke="#3a3a3a" stroke-width="0.6"/>
<rect x="596.7" y="653.6" width="19.1" height="90" fill="#7CAE00" stroke="#3a3a3a" stroke-width="0.6"/>
<rect x="623.9" y="684.3" width="19.1" height="59.3" fill="#00BFC4" stroke="#3a3a3a" stroke-width="0.6"/>
<rect x="651" y="657.8" width="19.1" height="85.8" fill="#C77CFF" stroke="#3a3a3a" stroke-width="0.6"/>
<line x1="579.1" y1="698.7" x2="579.1" y2="711.2"/>
<line x1="576.4" y1="698.7" x2="581.8" y2="698.7"/>
<line x1="576.4" y1="711.2" x2="581.8" y2="711.2"/>
<line x1="606.25" y1="647.3" x2="606.25" y2="660"/>
<line x1="603.55" y1="647.3" x2="608.95" y2="647.3"/>
<line x1="603.55" y1="660" x2="608.95" y2="660"/>
<line x1="633.45" y1="681.4" x2="633.45" y2="687.1"/>
<line x1="630.75" y1="681.4" x2="636.15" y2="681.4"/>
<line x1="630.75" y1="687.1" x2="636.15" y2="687.1"/>
<line x1="660.55" y1="655.6" x2="660.55" y2="660"/>
<line x1="657.85" y1="655.6" x2="663.25" y2="655.6"/>
<line x1="657.85" y1="660" x2="663.25" y2="660"/>
<path class="ax" d="M564.3 600.2V749.1H674"/>
<line class="tk" x1="561.9" y1="743.4" x2="564.3" y2="743.4"/>
<text class="tl" x="561.3" y="745.2">0</text>
<line class="tk" x1="561.9" y1="704.2" x2="564.3" y2="704.2"/>
<text class="tl" x="561.3" y="706">1</text>
<line class="tk" x1="561.9" y1="666.5" x2="564.3" y2="666.5"/>
<text class="tl" x="561.3" y="668.3">2</text>
<line class="tk" x1="561.9" y1="626.5" x2="564.3" y2="626.5"/>
<text class="tl" x="561.3" y="628.3">3</text>
<text class="tt" x="624.8" y="597.8">staph 5</text>
<text class="cf" transform="translate(550 693.9) rotate(-90)" textLength="18.8" lengthAdjust="spacingAndGlyphs">CFUs</text>
<text class="st" x="606.25" y="637.8">*</text>
<text class="st" x="633.45" y="668.6">*</text>
<text class="st" x="660.55" y="641.9">**</text>
<rect x="45.5" y="827" width="18.9" height="99.4" fill="#F8766D" stroke="#3a3a3a" stroke-width="0.6"/>
<rect x="71.8" y="819.1" width="18.6" height="107.3" fill="#7CAE00" stroke="#3a3a3a" stroke-width="0.6"/>
<rect x="98.1" y="819.1" width="18.6" height="107.3" fill="#00BFC4" stroke="#3a3a3a" stroke-width="0.6"/>
<rect x="124.2" y="797" width="18.6" height="129.4" fill="#C77CFF" stroke="#3a3a3a" stroke-width="0.6"/>
<line x1="54.95" y1="817.4" x2="54.95" y2="836.4"/>
<line x1="52.25" y1="817.4" x2="57.65" y2="817.4"/>
<line x1="52.25" y1="836.4" x2="57.65" y2="836.4"/>
<line x1="81.1" y1="815.4" x2="81.1" y2="823.5"/>
<line x1="78.4" y1="815.4" x2="83.8" y2="815.4"/>
<line x1="78.4" y1="823.5" x2="83.8" y2="823.5"/>
<line x1="107.4" y1="816.5" x2="107.4" y2="822.4"/>
<line x1="104.7" y1="816.5" x2="110.1" y2="816.5"/>
<line x1="104.7" y1="822.4" x2="110.1" y2="822.4"/>
<line x1="133.5" y1="790.4" x2="133.5" y2="803.4"/>
<line x1="130.8" y1="790.4" x2="136.2" y2="790.4"/>
<line x1="130.8" y1="803.4" x2="136.2" y2="803.4"/>
<path class="ax" d="M37.2 781.9V930.4H146.3"/>
<line class="tk" x1="34.8" y1="926.4" x2="37.2" y2="926.4"/>
<text class="tl" x="34.2" y="928.2">0.0</text>
<line class="tk" x1="34.8" y1="876" x2="37.2" y2="876"/>
<text class="tl" x="34.2" y="877.8">0.5</text>
<line class="tk" x1="34.8" y1="825" x2="37.2" y2="825"/>
<text class="tl" x="34.2" y="826.8">1.0</text>
<text class="tt" x="105.1" y="778.6">staph 1</text>
<text class="cf" transform="translate(22.7 876) rotate(-90)" textLength="18.8" lengthAdjust="spacingAndGlyphs">CFUs</text>
<rect x="177.7" y="872.3" width="18.6" height="54.1" fill="#F8766D" stroke="#3a3a3a" stroke-width="0.6"/>
<rect x="203.9" y="825.9" width="18.6" height="100.5" fill="#7CAE00" stroke="#3a3a3a" stroke-width="0.6"/>
<rect x="230.2" y="833.1" width="18.4" height="93.3" fill="#00BFC4" stroke="#3a3a3a" stroke-width="0.6"/>
<rect x="256.3" y="885.5" width="18.4" height="40.9" fill="#C77CFF" stroke="#3a3a3a" stroke-width="0.6"/>
<line x1="187" y1="864.7" x2="187" y2="879.6"/>
<line x1="184.3" y1="864.7" x2="189.7" y2="864.7"/>
<line x1="184.3" y1="879.6" x2="189.7" y2="879.6"/>
<line x1="213.2" y1="820.2" x2="213.2" y2="831.4"/>
<line x1="210.5" y1="820.2" x2="215.9" y2="820.2"/>
<line x1="210.5" y1="831.4" x2="215.9" y2="831.4"/>
<line x1="239.4" y1="825.5" x2="239.4" y2="840.6"/>
<line x1="236.7" y1="825.5" x2="242.1" y2="825.5"/>
<line x1="236.7" y1="840.6" x2="242.1" y2="840.6"/>
<line x1="265.5" y1="880.2" x2="265.5" y2="890.5"/>
<line x1="262.8" y1="880.2" x2="268.2" y2="880.2"/>
<line x1="262.8" y1="890.5" x2="268.2" y2="890.5"/>
<path class="ax" d="M174.6 781.9V931.2H280.1"/>
<line class="tk" x1="172.2" y1="926.4" x2="174.6" y2="926.4"/>
<text class="tl" x="171.6" y="928.2">0.0</text>
<line class="tk" x1="172.2" y1="899.3" x2="174.6" y2="899.3"/>
<text class="tl" x="171.6" y="901.1">0.5</text>
<line class="tk" x1="172.2" y1="871.7" x2="174.6" y2="871.7"/>
<text class="tl" x="171.6" y="873.5">1.0</text>
<line class="tk" x1="172.2" y1="844.1" x2="174.6" y2="844.1"/>
<text class="tl" x="171.6" y="845.9">1.5</text>
<line class="tk" x1="172.2" y1="815.4" x2="174.6" y2="815.4"/>
<text class="tl" x="171.6" y="817.2">2.0</text>
<line class="tk" x1="172.2" y1="788.9" x2="174.6" y2="788.9"/>
<text class="tl" x="171.6" y="790.7">2.5</text>
<text class="tt" x="234.2" y="778">staph 2</text>
<text class="cf" transform="translate(157.9 887) rotate(-90)" textLength="18.8" lengthAdjust="spacingAndGlyphs">CFUs</text>
<text class="st" x="213.2" y="816.9">**</text>
<text class="st" x="239.4" y="824.2">*</text>
<rect x="309.6" y="842.3" width="18.6" height="84.1" fill="#F8766D" stroke="#3a3a3a" stroke-width="0.6"/>
<rect x="335.7" y="812.3" width="18.6" height="114.1" fill="#7CAE00" stroke="#3a3a3a" stroke-width="0.6"/>
<rect x="361.9" y="835.3" width="18.6" height="91.1" fill="#00BFC4" stroke="#3a3a3a" stroke-width="0.6"/>
<rect x="388" y="836" width="18.6" height="90.4" fill="#C77CFF" stroke="#3a3a3a" stroke-width="0.6"/>
<line x1="318.9" y1="834.4" x2="318.9" y2="850.4"/>
<line x1="316.2" y1="834.4" x2="321.6" y2="834.4"/>
<line x1="316.2" y1="850.4" x2="321.6" y2="850.4"/>
<line x1="345" y1="790.4" x2="345" y2="834.4"/>
<line x1="342.3" y1="790.4" x2="347.7" y2="790.4"/>
<line x1="342.3" y1="834.4" x2="347.7" y2="834.4"/>
<line x1="371.2" y1="830.7" x2="371.2" y2="839.3"/>
<line x1="368.5" y1="830.7" x2="373.9" y2="830.7"/>
<line x1="368.5" y1="839.3" x2="373.9" y2="839.3"/>
<line x1="397.3" y1="827" x2="397.3" y2="845.2"/>
<line x1="394.6" y1="827" x2="400" y2="827"/>
<line x1="394.6" y1="845.2" x2="400" y2="845.2"/>
<path class="ax" d="M303 781.9V931.4H408.6"/>
<line class="tk" x1="300.6" y1="926.4" x2="303" y2="926.4"/>
<text class="tl" x="300" y="928.2">0</text>
<line class="tk" x1="300.6" y1="883.7" x2="303" y2="883.7"/>
<text class="tl" x="300" y="885.5">0.5</text>
<line class="tk" x1="300.6" y1="842.3" x2="303" y2="842.3"/>
<text class="tl" x="300" y="844.1">1.0</text>
<line class="tk" x1="300.6" y1="800.7" x2="303" y2="800.7"/>
<text class="tl" x="300" y="802.5">1.5</text>
<text class="tt" x="380.1" y="778.4">staph 3</text>
<text class="cf" transform="translate(290 887) rotate(-90)" textLength="18.8" lengthAdjust="spacingAndGlyphs">CFUs</text>
<rect x="441.3" y="806.9" width="18.7" height="119.5" fill="#F8766D" stroke="#3a3a3a" stroke-width="0.6"/>
<rect x="467.6" y="819.3" width="18.6" height="107.1" fill="#7CAE00" stroke="#3a3a3a" stroke-width="0.6"/>
<rect x="493.9" y="804" width="18.6" height="122.4" fill="#00BFC4" stroke="#3a3a3a" stroke-width="0.6"/>
<rect x="520" y="829.8" width="18.6" height="96.6" fill="#C77CFF" stroke="#3a3a3a" stroke-width="0.6"/>
<line x1="450.65" y1="792.4" x2="450.65" y2="821.5"/>
<line x1="447.95" y1="792.4" x2="453.35" y2="792.4"/>
<line x1="447.95" y1="821.5" x2="453.35" y2="821.5"/>
<line x1="476.9" y1="818.7" x2="476.9" y2="820.2"/>
<line x1="474.2" y1="818.7" x2="479.6" y2="818.7"/>
<line x1="474.2" y1="820.2" x2="479.6" y2="820.2"/>
<line x1="503.2" y1="790.4" x2="503.2" y2="817.4"/>
<line x1="500.5" y1="790.4" x2="505.9" y2="790.4"/>
<line x1="500.5" y1="817.4" x2="505.9" y2="817.4"/>
<line x1="529.3" y1="792.4" x2="529.3" y2="867.3"/>
<line x1="526.6" y1="792.4" x2="532" y2="792.4"/>
<line x1="526.6" y1="867.3" x2="532" y2="867.3"/>
<path class="ax" d="M434.6 782.3V931.7H539.7"/>
<line class="tk" x1="432.2" y1="926" x2="434.6" y2="926"/>
<text class="tl" x="431.6" y="927.8">0.0</text>
<line class="tk" x1="432.2" y1="891.4" x2="434.6" y2="891.4"/>
<text class="tl" x="431.6" y="893.2">0.3</text>
<line class="tk" x1="432.2" y1="854.6" x2="434.6" y2="854.6"/>
<text class="tl" x="431.6" y="856.4">0.6</text>
<line class="tk" x1="432.2" y1="818" x2="434.6" y2="818"/>
<text class="tl" x="431.6" y="819.8">0.9</text>
<text class="tt" x="507.9" y="778.4">staph 4</text>
<text class="cf" transform="translate(417.9 887) rotate(-90)" textLength="18.8" lengthAdjust="spacingAndGlyphs">CFUs</text>
<rect x="569.6" y="881.3" width="19" height="45.1" fill="#F8766D" stroke="#3a3a3a" stroke-width="0.6"/>
<rect x="596.7" y="821.5" width="19.1" height="104.9" fill="#7CAE00" stroke="#3a3a3a" stroke-width="0.6"/>
<rect x="623.9" y="863.1" width="19.1" height="63.3" fill="#00BFC4" stroke="#3a3a3a" stroke-width="0.6"/>
<rect x="651" y="840.8" width="19.1" height="85.6" fill="#C77CFF" stroke="#3a3a3a" stroke-width="0.6"/>
<line x1="579.1" y1="874.3" x2="579.1" y2="888.3"/>
<line x1="576.4" y1="874.3" x2="581.8" y2="874.3"/>
<line x1="576.4" y1="888.3" x2="581.8" y2="888.3"/>
<line x1="606.25" y1="815.4" x2="606.25" y2="827.7"/>
<line x1="603.55" y1="815.4" x2="608.95" y2="815.4"/>
<line x1="603.55" y1="827.7" x2="608.95" y2="827.7"/>
<line x1="633.45" y1="837.1" x2="633.45" y2="889.4"/>
<line x1="630.75" y1="837.1" x2="636.15" y2="837.1"/>
<line x1="630.75" y1="889.4" x2="636.15" y2="889.4"/>
<line x1="660.55" y1="840.4" x2="660.55" y2="841.2"/>
<line x1="657.85" y1="840.4" x2="663.25" y2="840.4"/>
<line x1="657.85" y1="841.2" x2="663.25" y2="841.2"/>
<path class="ax" d="M564.3 781.9V931.2H674"/>
<line class="tk" x1="561.9" y1="926.4" x2="564.3" y2="926.4"/>
<text class="tl" x="561.3" y="928.2">0</text>
<line class="tk" x1="561.9" y1="880.4" x2="564.3" y2="880.4"/>
<text class="tl" x="561.3" y="882.2">1</text>
<line class="tk" x1="561.9" y1="834.4" x2="564.3" y2="834.4"/>
<text class="tl" x="561.3" y="836.2">2</text>
<line class="tk" x1="561.9" y1="788.2" x2="564.3" y2="788.2"/>
<text class="tl" x="561.3" y="790">3</text>
<text class="tt" x="635.7" y="778.4">staph 5</text>
<text class="cf" transform="translate(550 887) rotate(-90)" textLength="18.8" lengthAdjust="spacingAndGlyphs">CFUs</text>
<text class="st" x="606.25" y="812.8">*</text>
<text class="st" x="660.55" y="831.8">*</text>
<rect x="86.6" y="1001.2" width="28.6" height="12.9" fill="#E8776F" stroke="#444" stroke-width="0.6"/>
<rect x="161.8" y="1001.2" width="28.2" height="12.9" fill="#7A9F1A" stroke="#444" stroke-width="0.6"/>
<rect x="227.2" y="1001.2" width="28" height="12.9" fill="#46AAAA" stroke="#444" stroke-width="0.6"/>
<rect x="290.5" y="1001.2" width="28" height="12.9" fill="#BC7BEA" stroke="#444" stroke-width="0.6"/>
<text class="lg" x="101.3" y="1027.8" textLength="57.4" lengthAdjust="spacingAndGlyphs">No antibiotic</text>
<text class="lg" x="178.1" y="1027.4" textLength="45.4" lengthAdjust="spacingAndGlyphs">12.5% MIC</text>
<text class="lg" x="241" y="1026.1" textLength="38.1" lengthAdjust="spacingAndGlyphs">25% MIC</text>
<text class="lg" x="301" y="1026.1" textLength="38.5" lengthAdjust="spacingAndGlyphs">50% MIC</text>
</svg></body></html>
